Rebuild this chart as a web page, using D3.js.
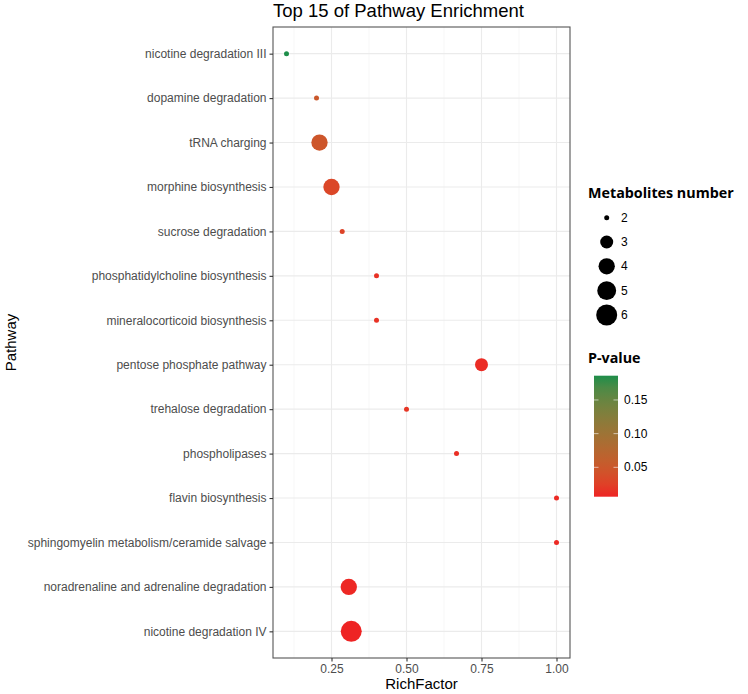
<!DOCTYPE html>
<html><head><meta charset="utf-8">
<script src="https://cdn.jsdelivr.net/npm/d3@7"></script>
<style>body{margin:0;background:#fff;} svg{display:block;}</style>
</head><body>
<svg id="chart" width="748" height="694"></svg>
<script>
const pathways = ["nicotine degradation III","dopamine degradation","tRNA charging","morphine biosynthesis","sucrose degradation","phosphatidylcholine biosynthesis","mineralocorticoid biosynthesis","pentose phosphate pathway","trehalose degradation","phospholipases","flavin biosynthesis","sphingomyelin metabolism/ceramide salvage","noradrenaline and adrenaline degradation","nicotine degradation IV"];
const richFactor = [0.1, 0.2, 0.21, 0.25, 0.2857, 0.4, 0.4, 0.75, 0.5, 0.6667, 1.0, 1.0, 0.3077, 0.3158];
const metaboliteCount = [2, 2, 4, 4, 2, 2, 2, 3, 2, 2, 2, 2, 4, 6];
const pValues = [0.186, 0.05, 0.047, 0.03, 0.027, 0.014, 0.014, 0.01, 0.016, 0.012, 0.009, 0.009, 0.008, 0.0064];
const xTicks = [0.25, 0.50, 0.75, 1.00];
const sizeBreaks = [2, 3, 4, 5, 6];
const colorTicks = [0.05, 0.10, 0.15];

const svg = d3.select("#chart");
const P = {left: 273, right: 570, top: 27, bottom: 658};
const font = "'Liberation Sans', Arial, Helvetica, sans-serif";

const xmin = d3.min(richFactor), xmax = d3.max(richFactor), xr = xmax - xmin;
const x = d3.scaleLinear().domain([xmin - 0.05*xr, xmax + 0.05*xr]).range([P.left, P.right]);
const y = d3.scalePoint().domain(pathways).range([P.top, P.bottom]).padding(0.6);
const sizeT = d3.scaleLinear().domain([d3.min(sizeBreaks), d3.max(sizeBreaks)]).range([0, 1]);
const rS = d3.scaleSqrt().domain([0, 1]).range([2.5, 10.5]);
const r = v => rS(sizeT(v));
const pmin = d3.min(pValues), pmax = d3.max(pValues);
const color = d3.scaleLinear().domain([pmin, pmax]).range(["#EE2424", "#1E8E4A"]).interpolate(d3.interpolateLab);

// panel background
svg.append("rect").attr("x", P.left).attr("y", P.top).attr("width", P.right-P.left).attr("height", P.bottom-P.top).attr("fill", "#fff");
// minor grid
const minor = [];
for (let i = 0; i < xTicks.length - 1; i++) minor.push((xTicks[i] + xTicks[i+1]) / 2);
minor.unshift(xTicks[0] - 0.125);
minor.filter(v => x(v) > P.left).forEach(v => {
  svg.append("line").attr("x1", x(v)).attr("x2", x(v)).attr("y1", P.top).attr("y2", P.bottom).attr("stroke", "#F2F2F2").attr("stroke-width", 0.6);
});
// major grid
xTicks.forEach(v => svg.append("line").attr("x1", x(v)).attr("x2", x(v)).attr("y1", P.top).attr("y2", P.bottom).attr("stroke", "#EBEBEB").attr("stroke-width", 1.1));
pathways.forEach(p => svg.append("line").attr("x1", P.left).attr("x2", P.right).attr("y1", y(p)).attr("y2", y(p)).attr("stroke", "#EBEBEB").attr("stroke-width", 1.1));

// points
const data = pathways.map((p, i) => ({p, rf: richFactor[i], n: metaboliteCount[i], pv: pValues[i]}));
svg.append("g").selectAll("circle").data(data).join("circle")
  .attr("cx", d => x(d.rf)).attr("cy", d => y(d.p)).attr("r", d => r(d.n))
  .attr("fill", d => color(d.pv));

// border
svg.append("rect").attr("x", P.left).attr("y", P.top).attr("width", P.right-P.left).attr("height", P.bottom-P.top).attr("fill", "none").attr("stroke", "#555").attr("stroke-width", 1.1);

// axes
const xAxis = svg.append("g").attr("transform", `translate(0,${P.bottom})`)
  .call(d3.axisBottom(x).tickValues(xTicks).tickFormat(d3.format(".2f")).tickSize(3.5).tickPadding(3));
const yAxis = svg.append("g").attr("transform", `translate(${P.left},0)`)
  .call(d3.axisLeft(y).tickSize(3.5).tickPadding(3));
[xAxis, yAxis].forEach(a => {
  a.select(".domain").remove();
  a.selectAll(".tick line").attr("stroke", "#333").attr("stroke-width", 1.1);
  a.selectAll(".tick text").attr("fill", "#4D4D4D").style("font-family", font).style("font-size", "12px");
});

// titles
svg.append("text").attr("x", P.left).attr("y", 17).text("Top 15 of Pathway Enrichment")
  .style("font-family", font).style("font-size", "18.5px").attr("fill", "#000");
svg.append("text").attr("x", (P.left+P.right)/2).attr("y", 689).attr("text-anchor", "middle").text("RichFactor")
  .style("font-family", font).style("font-size", "15px").attr("fill", "#000");
svg.append("text").attr("transform", `translate(16,${(P.top+P.bottom)/2}) rotate(-90)`).attr("text-anchor", "middle").text("Pathway")
  .style("font-family", font).style("font-size", "15px").attr("fill", "#000");

// size legend
const lx = 588;
svg.append("text").attr("x", lx).attr("y", 198).text("Metabolites number")
  .style("font-family", "'Open Sans', sans-serif").style("font-weight", "bold").style("font-size", "14.3px").attr("fill", "#000");
const ly = d3.scalePoint().domain(sizeBreaks).range([217.7, 315]);
sizeBreaks.forEach(b => {
  svg.append("circle").attr("cx", 606.7).attr("cy", ly(b)).attr("r", r(b)).attr("fill", "#000");
  svg.append("text").attr("x", 621).attr("y", ly(b) + 4).text(b)
    .style("font-family", font).style("font-size", "12px").attr("fill", "#000");
});

// colour legend
svg.append("text").attr("x", lx).attr("y", 363).text("P-value")
  .style("font-family", "'Open Sans', sans-serif").style("font-weight", "bold").style("font-size", "14.3px").attr("fill", "#000");
const cb = {x: 594, w: 24, top: 375.7, bottom: 496.7};
const cy = d3.scaleLinear().domain([pmin, pmax]).range([cb.bottom, cb.top]);
const defs = svg.append("defs");
const grad = defs.append("linearGradient").attr("id", "pg").attr("x1", 0).attr("x2", 0).attr("y1", 1).attr("y2", 0);
d3.range(0, 1.0001, 0.1).forEach(t => grad.append("stop").attr("offset", t).attr("stop-color", color(pmin + t*(pmax-pmin))));
svg.append("rect").attr("x", cb.x).attr("y", cb.top).attr("width", cb.w).attr("height", cb.bottom-cb.top).attr("fill", "url(#pg)");
colorTicks.forEach(t => {
  const yy = cy(t);
  svg.append("line").attr("x1", cb.x).attr("x2", cb.x+4.5).attr("y1", yy).attr("y2", yy).attr("stroke", "#fff").attr("stroke-opacity", 0.6);
  svg.append("line").attr("x1", cb.x+cb.w-4.5).attr("x2", cb.x+cb.w).attr("y1", yy).attr("y2", yy).attr("stroke", "#fff").attr("stroke-opacity", 0.6);
  svg.append("text").attr("x", 624).attr("y", yy + 4).text(d3.format(".2f")(t))
    .style("font-family", font).style("font-size", "12px").attr("fill", "#000");
});
</script>
</body></html>
